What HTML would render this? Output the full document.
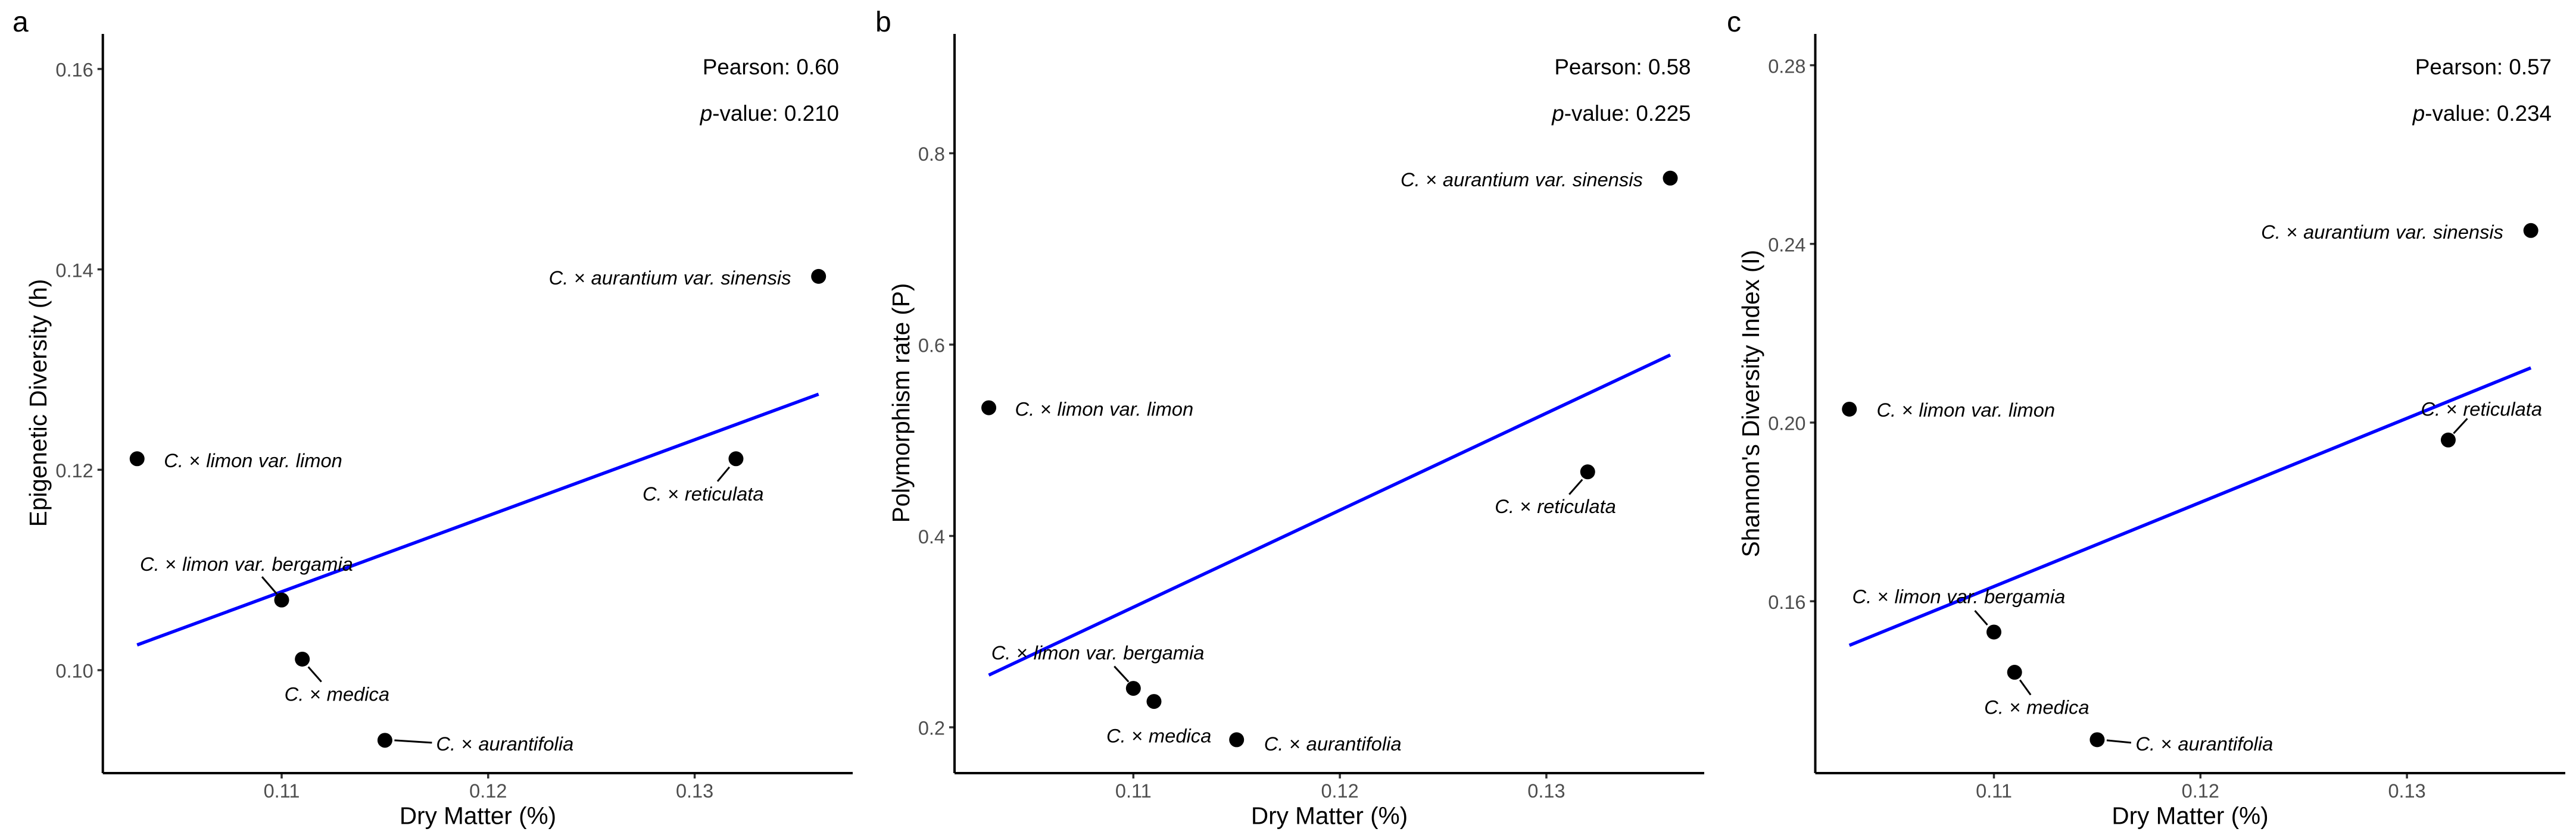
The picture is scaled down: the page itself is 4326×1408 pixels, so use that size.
<!DOCTYPE html>
<html lang="en">
<head>
<meta charset="utf-8">
<title>Dry Matter correlations</title>
<style>
html,body{margin:0;padding:0;background:#fff;}
svg{display:block;font-family:"Liberation Sans",Arial,sans-serif;}
.title{font-size:40.5px;fill:#000;}
.stat{font-size:36.8px;fill:#000;text-anchor:end;}
.letter{font-size:48px;fill:#000;}
.tick-label{font-size:32.5px;fill:#4d4d4d;}
.species{font-size:32.7px;word-spacing:0.5px;fill:#000;font-style:italic;}
.species .times{font-style:normal;}
</style>
</head>
<body>
<svg id="figure" xmlns="http://www.w3.org/2000/svg" width="4326" height="1408" viewBox="0 0 4326 1408">
  <rect x="0" y="0" width="4326" height="1408" fill="#fff"/>

  <g id="panel-a"></g>
  <g id="panel-b"></g>
  <g id="panel-c"></g>

  <text class="letter" x="21" y="53">a</text>
  <text class="letter" x="1470" y="53">b</text>
  <text class="letter" x="2900" y="53">c</text>

  <text class="title" text-anchor="middle" transform="translate(78 677) rotate(-90)">Epigenetic Diversity (h)</text>
  <text class="title" text-anchor="middle" transform="translate(1527 677) rotate(-90)">Polymorphism rate (P)</text>
  <text class="title" text-anchor="middle" transform="translate(2954 678) rotate(-90)">Shannon's Diversity Index (I)</text>

  <text class="title" text-anchor="middle" x="802.5" y="1384.5">Dry Matter (%)</text>
  <text class="title" text-anchor="middle" x="2232.5" y="1384.5">Dry Matter (%)</text>
  <text class="title" text-anchor="middle" x="3678" y="1384.5">Dry Matter (%)</text>

  <text class="stat" x="1409" y="125">Pearson: 0.60</text>
  <text class="stat" x="1409" y="203"><tspan font-style="italic">p</tspan>-value: 0.210</text>
  <text class="stat" x="2839.5" y="125">Pearson: 0.58</text>
  <text class="stat" x="2839.5" y="203"><tspan font-style="italic">p</tspan>-value: 0.225</text>
  <text class="stat" x="4285" y="125">Pearson: 0.57</text>
  <text class="stat" x="4285" y="203"><tspan font-style="italic">p</tspan>-value: 0.234</text>
</svg>

<script>
// ---- chart data ----
const speciesNames = ["limon var. limon", "limon var. bergamia", "medica", "aurantifolia", "reticulata", "aurantium var. sinensis"];
const dryMatter = [0.103, 0.110, 0.111, 0.115, 0.132, 0.136];
const epigeneticDiversity = [0.1211, 0.1070, 0.1011, 0.0930, 0.1211, 0.1393];
const polymorphismRate = [0.534, 0.2407, 0.227, 0.187, 0.467, 0.774];
const shannonIndex = [0.2030, 0.1531, 0.1441, 0.1290, 0.1961, 0.2430];
const xTicks = [0.11, 0.12, 0.13];
const yTicksA = [0.10, 0.12, 0.14, 0.16];
const yTicksB = [0.2, 0.4, 0.6, 0.8];
const yTicksC = [0.16, 0.20, 0.24, 0.28];

// ---- layout (not data): axis calibration and repel-label placement relative to each point ----
const panelLayouts = [
  { id: "panel-a", key: "a", values: epigeneticDiversity, yTicks: yTicksA, digits: 2,
    left: 172.7, right: 1432, x0: 473, y0: 1126, yRef: 0.10, yScale: 16835,
    labels: [
      { dx: 45, dy: 14 },
      { dx: -238, dy: -49, lead: [-8, -10, -33, -39] },
      { dx: -30, dy: 70, lead: [10, 13, 32, 38] },
      { dx: 86, dy: 17, lead: [16, 0, 79, 4] },
      { dx: -157, dy: 70, lead: [-11, 14, -31, 38] },
      { dx: -453, dy: 13.5 }
    ] },
  { id: "panel-b", key: "b", values: polymorphismRate, yTicks: yTicksB, digits: 1,
    left: 1603, right: 2862, x0: 1903.3, y0: 1222, yRef: 0.2, yScale: 1607.5,
    labels: [
      { dx: 44, dy: 13.5 },
      { dx: -238.6, dy: -48.5, lead: [-8, -11, -32, -37] },
      { dx: -80, dy: 69 },
      { dx: 46, dy: 18 },
      { dx: -156, dy: 69, lead: [-9, 13, -31, 38] },
      { dx: -453, dy: 13.5 }
    ] },
  { id: "panel-c", key: "c", values: shannonIndex, yTicks: yTicksC, digits: 2,
    left: 3048.5, right: 4308, x0: 3348.5, y0: 1010.2, yRef: 0.16, yScale: 7505,
    labels: [
      { dx: 45.7, dy: 12.6 },
      { dx: -238, dy: -48.5, lead: [-11, -12, -32, -36] },
      { dx: -51, dy: 70, lead: [9, 13, 27, 38] },
      { dx: 64.5, dy: 18, lead: [16, 1, 57, 5] },
      { dx: -46, dy: -41, lead: [9, -11, 32, -36] },
      { dx: -453, dy: 13.5 }
    ] }
];

const SVG_NS = "http://www.w3.org/2000/svg";
const X_UNIT = 34680;
const AXIS_TOP = 57;
const AXIS_BOTTOM = 1299;

function make(parent, tag, attrs) {
  const el = document.createElementNS(SVG_NS, tag);
  for (const k in attrs) el.setAttribute(k, attrs[k]);
  parent.appendChild(el);
  return el;
}

// least-squares fit of y on x, as drawn by the trend line
function fitLine(xs, ys) {
  const n = xs.length;
  const mx = xs.reduce((a, b) => a + b, 0) / n;
  const my = ys.reduce((a, b) => a + b, 0) / n;
  let sxy = 0, sxx = 0;
  xs.forEach((x, i) => { sxy += (x - mx) * (ys[i] - my); sxx += (x - mx) * (x - mx); });
  const slope = sxy / sxx;
  return x => my + slope * (x - mx);
}

function drawPanel(p) {
  const g = document.getElementById(p.id);
  const xPos = v => p.x0 + (v - xTicks[0]) * X_UNIT;
  const yPos = v => p.y0 - (v - p.yRef) * p.yScale;

  // axis ticks and labels
  xTicks.forEach(t => {
    const tick = make(g, "line", { x1: xPos(t), x2: xPos(t), y1: AXIS_BOTTOM + 2, y2: AXIS_BOTTOM + 9, stroke: "#333333", "stroke-width": 3.5 });
    
    
    const lab = make(g, "text", { class: "tick-label", x: xPos(t), y: AXIS_BOTTOM + 41, "text-anchor": "middle" });
    
    
    lab.textContent = t.toFixed(2);
  });
  p.yTicks.forEach(t => {
    const tick = make(g, "line", { x1: p.left - 9, x2: p.left - 2, y1: yPos(t), y2: yPos(t), stroke: "#333333", "stroke-width": 3.5 });
    
    
    const lab = make(g, "text", { class: "tick-label", x: p.left - 16, y: yPos(t) + 12.7, "text-anchor": "end" });
    
    
    lab.textContent = t.toFixed(p.digits);
  });

  // axis lines
  const yAxis = make(g, "line", { x1: p.left, x2: p.left, y1: AXIS_TOP, y2: AXIS_BOTTOM, stroke: "#000", "stroke-width": 4 });
  
  
  const xAxis = make(g, "line", { x1: p.left, x2: p.right, y1: AXIS_BOTTOM, y2: AXIS_BOTTOM, stroke: "#000", "stroke-width": 4 });
  
  

  // trend line
  const fit = fitLine(dryMatter, p.values);
  const xMin = Math.min.apply(null, dryMatter);
  const xMax = Math.max.apply(null, dryMatter);
  const trend = make(g, "line", { x1: xPos(xMin), y1: yPos(fit(xMin)), x2: xPos(xMax), y2: yPos(fit(xMax)), stroke: "#0000ff", "stroke-width": 5.5 });
  
  

  // points, leaders, labels
  dryMatter.forEach((d, i) => {
    const px = xPos(d);
    const py = yPos(p.values[i]);
    const lay = p.labels[i];

    if (lay.lead) {
      const leader = make(g, "line", { x1: px + lay.lead[0], y1: py + lay.lead[1], x2: px + lay.lead[2], y2: py + lay.lead[3], stroke: "#000", "stroke-width": 3 });
      
      
    }

    const dot = make(g, "circle", { cx: px, cy: py, r: 12.5, fill: "#000" });
    
    

    const label = make(g, "text", { class: "species", x: px + lay.dx, y: py + lay.dy });
    
    
    label.appendChild(document.createTextNode("C. "));
    const times = make(label, "tspan", { class: "times" });
    times.textContent = "\u00D7";
    label.appendChild(document.createTextNode(" " + speciesNames[i]));
  });
}

panelLayouts.forEach(drawPanel);
</script>
</body>
</html>
